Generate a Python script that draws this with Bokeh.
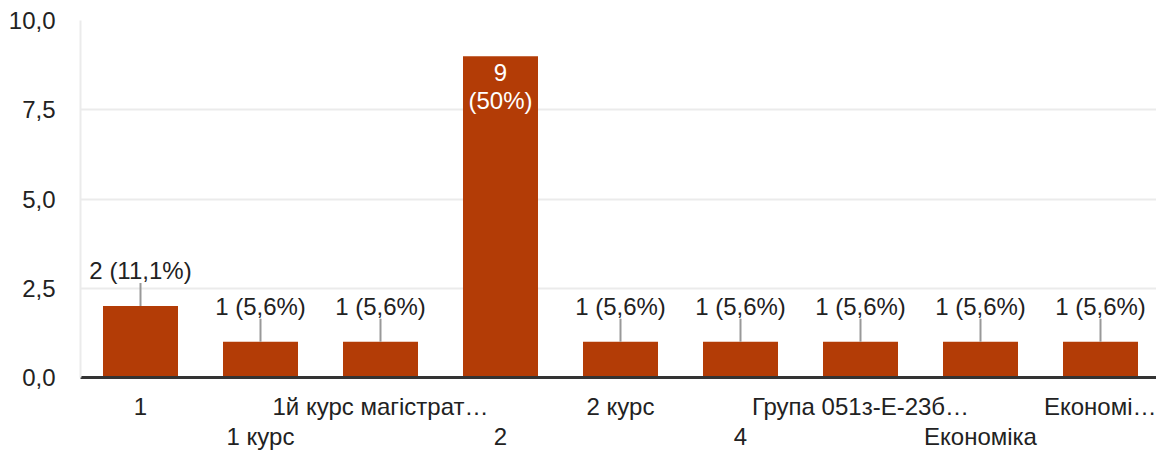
from bokeh.plotting import figure
from bokeh.models import ColumnDataSource, LabelSet, FixedTicker, Range1d, LinearAxis
from bokeh.core.properties import value
from bokeh.embed import file_html
from bokeh.resources import INLINE
import math

categories = ["1", "1 курс", "1й курс магістрат…", "2", "2 курс", "4",
              "Група 051з-Е-23б…", "Економіка", "Економі…"]
counts = [2, 1, 1, 9, 1, 1, 1, 1, 1]
y_ticks = [0, 2.5, 5, 7.5, 10]
y_tick_labels = ["0,0", "2,5", "5,0", "7,5", "10,0"]

BAR = "#b33c06"
TXT = "#222222"
FONT = "Liberation Sans"
FS = "24px"

total = sum(counts)
xs = list(range(len(categories)))


def pct(c):
    p = round(c / total * 100, 1)
    s = ("%.1f" % p).rstrip("0").rstrip(".")
    return s.replace(".", ",") + "%"


p = figure(width=1156, height=452, x_range=Range1d(-0.5, 8.4667), y_range=Range1d(0, 10),
           output_backend="svg", toolbar_location=None, x_axis_location=None,
           min_border_left=80, min_border_right=0, min_border_top=20, min_border_bottom=74)
p.outline_line_color = None
p.background_fill_color = "white"
p.border_fill_color = "white"
p.xgrid.visible = False

yax = p.yaxis[0]
yax.ticker = FixedTicker(ticks=y_ticks)
yax.major_label_overrides = {t: l for t, l in zip(y_ticks, y_tick_labels)}
yax.axis_line_color = "#ebebeb"
yax.axis_line_width = 2
yax.major_tick_line_color = None
yax.minor_tick_line_color = None
yax.major_tick_out = 0
yax.major_tick_in = 0
yax.major_label_standoff = 25
yax.major_label_text_font = FONT
yax.major_label_text_font_size = FS
yax.major_label_text_color = TXT

p.ygrid.ticker = FixedTicker(ticks=y_ticks)
p.ygrid.grid_line_color = "#ebebeb"
p.ygrid.grid_line_width = 2

# two rows of category labels: two stacked x axes
row1 = [i for i in xs if i % 2 == 0]
row2 = [i for i in xs if i % 2 == 1]
for k, (rows, standoff) in enumerate([(row1, 15), (row2, 0)]):
    ax = LinearAxis(ticker=FixedTicker(ticks=rows),
                    major_label_overrides={i: categories[i] for i in rows})
    ax.major_tick_line_color = None
    ax.minor_tick_line_color = None
    ax.major_tick_out = 0
    ax.major_tick_in = 0
    ax.major_label_standoff = standoff
    ax.major_label_text_font = FONT
    ax.major_label_text_font_size = FS
    ax.major_label_text_color = TXT
    if k == 0:
        ax.axis_line_color = "#333333"
        ax.axis_line_width = 3
    else:
        ax.axis_line_color = None
    p.add_layout(ax, "below")

p.vbar(x=xs, top=counts, width=0.625, fill_color=BAR, line_color=None)

out_idx = [i for i, c in enumerate(counts) if c < 5]
in_idx = [i for i, c in enumerate(counts) if c >= 5]

src_out = ColumnDataSource(dict(
    x=[xs[i] for i in out_idx],
    y=[counts[i] for i in out_idx],
    t=["%d (%s)" % (counts[i], pct(counts[i])) for i in out_idx],
))
p.ray(x="x", y="y", source=src_out, length=23, length_units="screen", angle=math.pi / 2,
      line_color="#999999", line_width=2)
p.add_layout(LabelSet(x="x", y="y", text="t", source=src_out, y_offset=27,
                      text_align="center", text_baseline="alphabetic",
                      text_font=value(FONT), text_font_size=FS, text_color=TXT))

src_in = ColumnDataSource(dict(
    x=[xs[i] for i in in_idx],
    y=[counts[i] for i in in_idx],
    a=["%d" % counts[i] for i in in_idx],
    b=["(%s)" % pct(counts[i]) for i in in_idx],
))
p.add_layout(LabelSet(x="x", y="y", text="a", source=src_in, y_offset=-25,
                      text_align="center", text_baseline="alphabetic",
                      text_font=value(FONT), text_font_size=FS, text_color="white"))
p.add_layout(LabelSet(x="x", y="y", text="b", source=src_in, y_offset=-53,
                      text_align="center", text_baseline="alphabetic",
                      text_font=value(FONT), text_font_size=FS, text_color="white"))

open("out.html", "w").write(file_html(p, INLINE))
